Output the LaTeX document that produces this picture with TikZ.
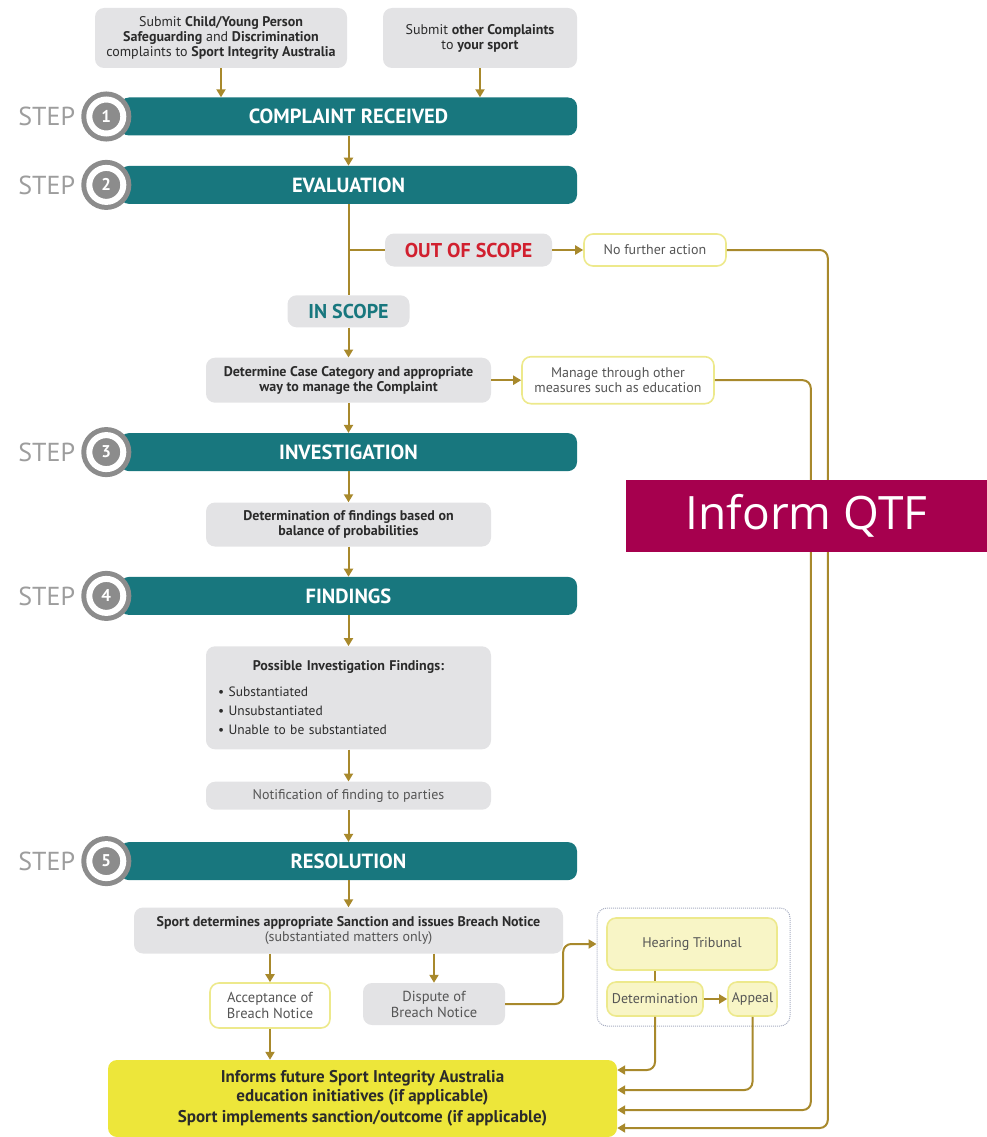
\documentclass[tikz,border=0pt]{standalone}
\usepackage{fontspec}
\setmainfont{PT Sans}
\newfontfamily\qtffont{Open Sans}
\usepackage{tikz}
\usetikzlibrary{arrows.meta,positioning}
\usepackage{xcolor}
\definecolor{sitteal}{HTML}{18777E}
\definecolor{sitgray}{HTML}{E3E3E5}
\definecolor{sitgold}{HTML}{A8892C}
\definecolor{sitpale}{HTML}{EDE98C}
\definecolor{sityellow}{HTML}{EDE63A}
\definecolor{sitcream}{HTML}{F8F5C6}
\definecolor{sitred}{HTML}{D1202F}
\definecolor{sitring}{HTML}{8C8C8C}
\definecolor{sittext}{HTML}{2B2B2B}
\definecolor{sitsoft}{HTML}{555555}
\definecolor{sitdots}{HTML}{A8AEC2}
\definecolor{qtfred}{HTML}{A6004E}
\tikzset{
  graybox/.style={
    rectangle,
    rounded corners=9pt,
    fill=sitgray,
    align=center,
    inner sep=0pt,
    text=sittext,
    font=\fontsize{14}{15}\selectfont
  },
  whitebox/.style={graybox, fill=white, draw=sitpale, line width=1.6pt, text=sitsoft},
  stepbar/.style={
    rectangle,
    rounded corners=9pt,
    fill=sitteal,
    text=white,
    minimum width=457pt,
    minimum height=38pt,
    inner sep=0pt,
    font=\fontsize{20.5}{22}\selectfont\bfseries
  },
  stepnum/.style={
    circle,
    fill=sitring,
    draw=sitring,
    double=white,
    double distance=6pt,
    line width=5pt,
    minimum size=34pt,
    inner sep=0pt,
    text=white,
    font=\fontsize{17}{17}\selectfont\bfseries
  },
  steplabel/.style={inner sep=0pt, anchor=east, text=sitring!85, font=\fontsize{26}{26}\selectfont},
  scopebox/.style={graybox, font=\fontsize{20}{22}\selectfont\bfseries},
  tribunalbox/.style={graybox, fill=sitcream, draw=sitpale, line width=1.6pt, text=sitsoft, font=\fontsize{14}{16}\selectfont},
  tribunalgroup/.style={rectangle, rounded corners=10pt, draw=sitdots, densely dotted, line width=1pt},
  finalbox/.style={graybox, fill=sityellow, font=\fontsize{17}{19}\selectfont\bfseries},
  flowarrow/.style={-{Triangle[length=8pt,width=9pt]}, line width=2pt, draw=sitgold},
  flowline/.style={line width=2pt, draw=sitgold},
  qtfbanner/.style={
    rectangle,
    fill=qtfred,
    text=white,
    minimum width=361pt,
    minimum height=72pt,
    inner sep=0pt,
    font=\qtffont\fontsize{46}{46}\selectfont
  }
}

\begin{document}
\begin{tikzpicture}[x=1pt, y=-1pt]
\useasboundingbox (0,0) rectangle (987,1137);
% where complaints go in
\node[graybox, minimum width=252pt, minimum height=60pt] (sia) at (221,38) {Submit \textbf{Child/Young Person}\\\textbf{Safeguarding} and \textbf{Discrimination}\\complaints to \textbf{Sport Integrity Australia}};
\node[graybox, minimum width=194pt, minimum height=60pt] (own) at (480,38) {Submit \textbf{other Complaints}\\to \textbf{your sport}};
% main column
\node[stepbar] (s1) at (348.5,116.5) {COMPLAINT RECEIVED};
\node[stepbar, below=30pt of s1] (s2) {EVALUATION};
\node[scopebox, text=sitteal, minimum width=122pt, minimum height=32pt, below=91pt of s2] (inscope) {IN SCOPE};
\node[graybox, minimum width=285pt, minimum height=45pt, font=\fontsize{14}{15}\selectfont\bfseries, below=30pt of inscope] (determine) {Determine Case Category and appropriate\\way to manage the Complaint};
\node[stepbar, below=30pt of determine] (s3) {INVESTIGATION};
\node[graybox, minimum width=285pt, minimum height=44pt, font=\fontsize{14}{15}\selectfont\bfseries, below=31pt of s3] (balance) {Determination of findings based on\\balance of probabilities};
\node[stepbar, below=30pt of balance] (s4) {FINDINGS};
\node[graybox, minimum width=285pt, minimum height=103pt, text width=261pt, align=left, font=\fontsize{13.5}{19}\selectfont, below=31pt of s4] (possible) {{\centering\textbf{\fontsize{14}{15}\selectfont Possible Investigation Findings:}\par}\vspace{7pt}\textbullet\ Substantiated\\\textbullet\ Unsubstantiated\\\textbullet\ Unable to be substantiated};
\node[graybox, minimum width=285pt, minimum height=28pt, text=sitsoft, below=32pt of possible] (notify) {Notification of finding to parties};
\node[stepbar, below=32pt of notify] (s5) {RESOLUTION};
\node[graybox, minimum width=429pt, minimum height=46pt, below=27pt of s5] (sport) {\textbf{Sport determines appropriate Sanction and issues Breach Notice}\\{\color{sitsoft}(substantiated matters only)}};
% step numbers
\node[stepnum] (n1) at ([xshift=-13.5pt]s1.west) {1};
\node[steplabel] (t1) at ([xshift=-31pt]n1.center) {STEP};
\node[stepnum] (n2) at ([xshift=-13.5pt]s2.west) {2};
\node[steplabel] (t2) at ([xshift=-31pt]n2.center) {STEP};
\node[stepnum] (n3) at ([xshift=-13.5pt]s3.west) {3};
\node[steplabel] (t3) at ([xshift=-31pt]n3.center) {STEP};
\node[stepnum] (n4) at ([xshift=-13.5pt]s4.west) {4};
\node[steplabel] (t4) at ([xshift=-31pt]n4.center) {STEP};
\node[stepnum] (n5) at ([xshift=-13.5pt]s5.west) {5};
\node[steplabel] (t5) at ([xshift=-31pt]n5.center) {STEP};
% side branches
\node[scopebox, text=sitred, minimum width=167pt, minimum height=33pt] (outscope) at (468.5,250) {OUT OF SCOPE};
\node[whitebox, minimum width=142pt, minimum height=32pt, right=31pt of outscope] (nofurther) {No further action};
\node[whitebox, minimum width=192pt, minimum height=47pt, right=30pt of determine] (manage) {Manage through other\\measures such as education};
% breach notice
\node[whitebox, minimum width=120pt, minimum height=45pt, font=\fontsize{14.5}{16}\selectfont] (accept) at (270,1005.5) {Acceptance of\\Breach Notice};
\node[graybox, minimum width=142pt, minimum height=42pt, text=sitsoft, font=\fontsize{14.5}{16}\selectfont] (dispute) at (434,1004) {Dispute of\\Breach Notice};
\node[finalbox, minimum width=509pt, minimum height=77pt] (final) at (362.5,1098.5) {Informs future Sport Integrity Australia\\education initiatives (if applicable)\\[2pt]Sport implements sanction/outcome (if applicable)};
% tribunal
\node[tribunalgroup, minimum width=193pt, minimum height=118pt] (hearinggrp) at (693.5,967) {};
\node[tribunalbox, minimum width=170pt, minimum height=52pt] (hearing) at (692,944) {Hearing Tribunal};
\node[tribunalbox, minimum width=96pt, minimum height=34pt] (detm) at (655,999) {Determination};
\node[tribunalbox, minimum width=49pt, minimum height=34pt] (appeal) at (752.5,999) {Appeal};
% connectors
\draw[flowarrow] (sia.south) -- (sia.south |- s1.north);
\draw[flowarrow] (own.south) -- (own.south |- s1.north);
\draw[flowarrow] (s1) -- (s2);
\draw[flowline] (s2) -- (inscope);
\draw[flowline] (s2.south |- outscope) -- (outscope);
\draw[flowarrow] (outscope) -- (nofurther);
\draw[flowarrow] (inscope) -- (determine);
\draw[flowarrow] (determine) -- (manage);
\draw[flowarrow] (determine) -- (s3);
\draw[flowarrow] (s3) -- (balance);
\draw[flowarrow] (balance) -- (s4);
\draw[flowarrow] (s4) -- (possible);
\draw[flowarrow] (possible) -- (notify);
\draw[flowarrow] (notify) -- (s5);
\draw[flowarrow] (s5) -- (sport);
\draw[flowarrow] (sport.south -| accept) -- (accept.north);
\draw[flowarrow] (sport.south -| dispute) -- (dispute.north);
\draw[flowarrow] (accept.south) -- (accept.south |- final.north);
\draw[flowarrow, rounded corners=8pt] (dispute.east) -- ++(58pt,0) |- (hearinggrp.west |- hearing.west);
\draw[flowline] (detm.north |- hearing.south) -- (detm.north);
\draw[flowarrow] (detm) -- (appeal);
\draw[flowarrow, rounded corners=8pt] (detm.south) |- ([yshift=28.5pt]final.east);
\draw[flowarrow, rounded corners=8pt] (appeal.south) |- ([yshift=8.5pt]final.east);
\draw[flowarrow, rounded corners=8pt] (manage.east) -- ++(96pt,0) |- ([yshift=-11.5pt]final.east);
\draw[flowarrow, rounded corners=8pt] (nofurther.east) -- ++(101pt,0) |- ([yshift=-29.5pt]final.east);
% banner
\node[qtfbanner] (qtf) at (806.5,515.5) {Inform QTF};
\end{tikzpicture}
\end{document}
